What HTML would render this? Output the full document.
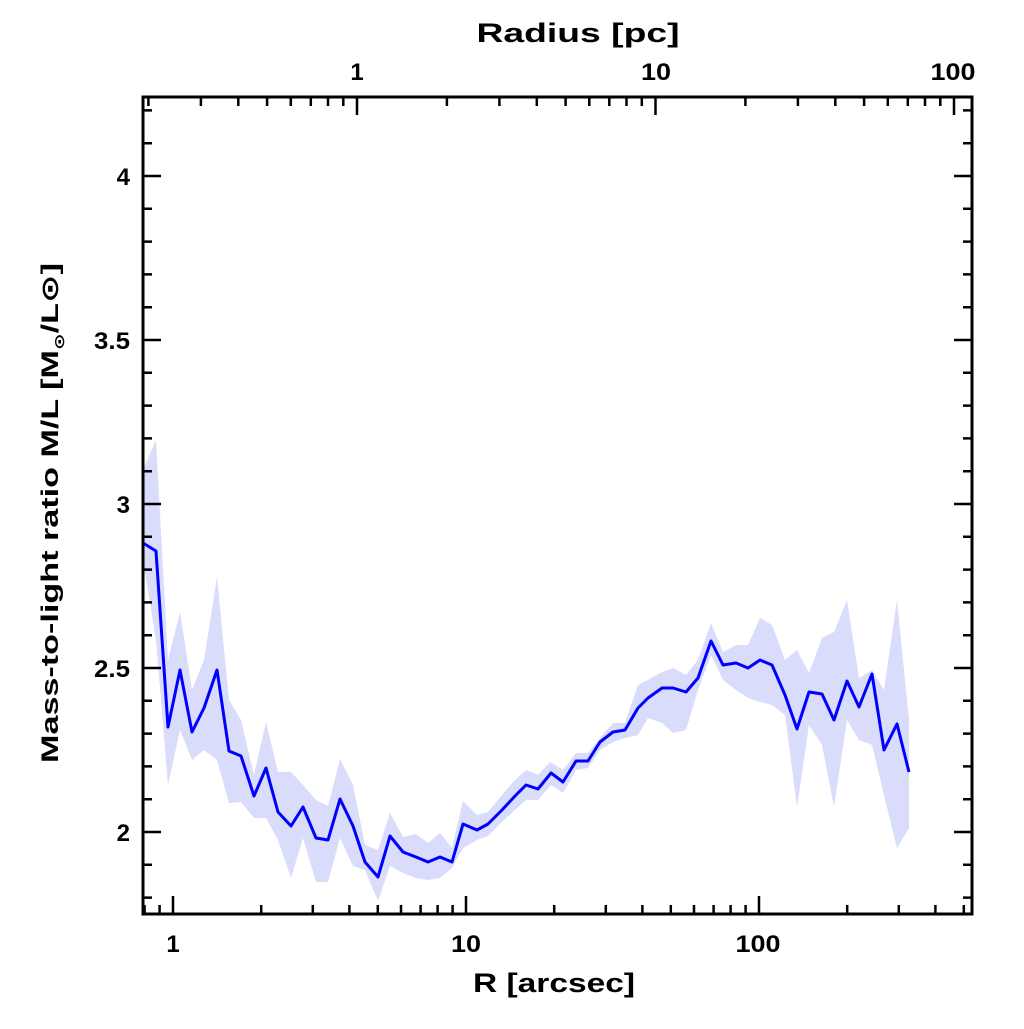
<!DOCTYPE html>
<html><head><style>
body{margin:0;background:#fff}
svg text{font-family:"Liberation Sans","DejaVu Sans",sans-serif;font-weight:bold;fill:#000}
</style></head><body>
<svg width="1024" height="1024" viewBox="0 0 1024 1024" xmlns="http://www.w3.org/2000/svg">
<defs><clipPath id="c"><rect x="143" y="97" width="829" height="817"/></clipPath></defs>
<g clip-path="url(#c)">
<polygon fill="#d9dcfb" points="143,470 156,440 168,660 180,612 192,690 204,660 217,577 229,700 241,720 254,775 266,722 278,772 291,772 303,785 316,800 328,806 340,759 353,785 365,845 378,850 390,813 403,837 416,834 428,843 440,833 452,848 463,801 477,815 488,812 502,795 515,780 526,770 538,775 550,762 563,770 576,753 588,753 600,738 613,723 625,723 638,685 648,680 662,672 673,668 686,675 698,660 711,623 723,652 736,645 748,645 760,618 772,625 785,660 797,650 809,673 822,638 834,632 847,600 859,678 872,670 884,690 897,600 909,720 909,828 897,848 884,795 872,745 859,740 847,720 834,807 822,745 809,725 797,807 785,715 772,705 760,702 748,698 736,690 723,680 711,655 698,690 686,730 673,733 662,723 648,718 638,735 625,738 613,742 600,750 588,768 576,770 563,793 551,785 538,800 526,800 515,810 502,822 488,836 477,840 463,848 452,868 440,878 428,880 416,878 403,873 390,866 378,901 365,870 353,866 340,838 328,882 316,882 303,838 291,878 278,840 266,818 254,818 241,802 229,803 217,760 204,750 192,760 180,730 168,785 156,640 143,560"/>
<polyline fill="none" stroke="#0000ff" stroke-width="3" stroke-linejoin="round" points="143,543 156,551 168,727 180,670 192,732 204,708 217,670 229,751 241,756 254,796 266,768 278,812 291,826 303,807 316,838 328,840 340,799 353,826 365,862 378,877 390,836 403,852 416,857 428,862 440,857 452,862 463,824 477,830 488,824 502,810 515,796 526,785 538,789 551,773 563,782 576,761 588,761 600,742 613,732 625,730 638,708 648,698 662,688 673,688 686,692 698,678 711,641 723,665 736,663 748,668 760,660 772,665 785,695 797,729 809,692 822,694 834,720 847,681 859,707 872,674 884,750 897,724 909,772"/>
</g>
<rect x="143" y="97" width="829" height="817" fill="none" stroke="#000" stroke-width="3"/>
<path stroke="#000" stroke-width="2.5" fill="none" d="
M143 897.6h9M143 864.8h9M143 832h18M143 799.2h9M143 766.4h9M143 733.6h9M143 700.8h9M143 668h18M143 635.2h9M143 602.4h9M143 569.6h9M143 536.8h9M143 504h18M143 471.2h9M143 438.4h9M143 405.6h9M143 372.8h9M143 340h18M143 307.2h9M143 274.4h9M143 241.6h9M143 208.8h9M143 176h18M143 143.2h9M143 110.4h9
M972 897.6h-9M972 864.8h-9M972 832h-18M972 799.2h-9M972 766.4h-9M972 733.6h-9M972 700.8h-9M972 668h-18M972 635.2h-9M972 602.4h-9M972 569.6h-9M972 536.8h-9M972 504h-18M972 471.2h-9M972 438.4h-9M972 405.6h-9M972 372.8h-9M972 340h-18M972 307.2h-9M972 274.4h-9M972 241.6h-9M972 208.8h-9M972 176h-18M972 143.2h-9M972 110.4h-9
M144.6 914v-9M159.6 914v-9M173 914v-18M261.2 914v-9M312.8 914v-9M349.4 914v-9M377.8 914v-9M401 914v-9M420.6 914v-9M437.6 914v-9M452.6 914v-9M466 914v-18M554.2 914v-9M605.8 914v-9M642.4 914v-9M670.8 914v-9M694 914v-9M713.6 914v-9M730.6 914v-9M745.6 914v-9M759 914v-18M847.2 914v-9M898.8 914v-9M935.4 914v-9M963.8 914v-9
M148.4 97v9M200.9 97v9M238.3 97v9M267.1 97v9M290.8 97v9M310.8 97v9M328 97v9M343.3 97v9M357 97v18M446.9 97v9M499.4 97v9M536.8 97v9M565.6 97v9M589.3 97v9M609.3 97v9M626.5 97v9M641.8 97v9M655.5 97v18M745.4 97v9M797.9 97v9M835.3 97v9M864.1 97v9M887.8 97v9M907.8 97v9M925 97v9M940.3 97v9M954 97v18"/>
<g font-size="24" text-anchor="end">
<text x="130" y="185">4</text><text x="130" y="349" textLength="36" lengthAdjust="spacingAndGlyphs">3.5</text><text x="130" y="513">3</text><text x="130" y="677" textLength="36" lengthAdjust="spacingAndGlyphs">2.5</text><text x="130" y="841">2</text>
</g>
<g font-size="24" text-anchor="middle">
<text x="173" y="952">1</text><text x="466" y="952" textLength="30" lengthAdjust="spacingAndGlyphs">10</text><text x="758" y="952" textLength="45" lengthAdjust="spacingAndGlyphs">100</text>
<text x="357" y="80">1</text><text x="656" y="80" textLength="30" lengthAdjust="spacingAndGlyphs">10</text><text x="953" y="80" textLength="45" lengthAdjust="spacingAndGlyphs">100</text>
<text x="554" y="992" font-size="27" textLength="162" lengthAdjust="spacingAndGlyphs">R [arcsec]</text>
<text x="578" y="42" font-size="27" textLength="203" lengthAdjust="spacingAndGlyphs">Radius [pc]</text>
<text transform="translate(58,513) rotate(-90)" font-size="24" textLength="500" lengthAdjust="spacingAndGlyphs">Mass-to-light ratio M/L [M<tspan font-size="14" dy="6">⊙</tspan><tspan dy="-6">/L⊙]</tspan></text>
</g>
</svg>
</body></html>
